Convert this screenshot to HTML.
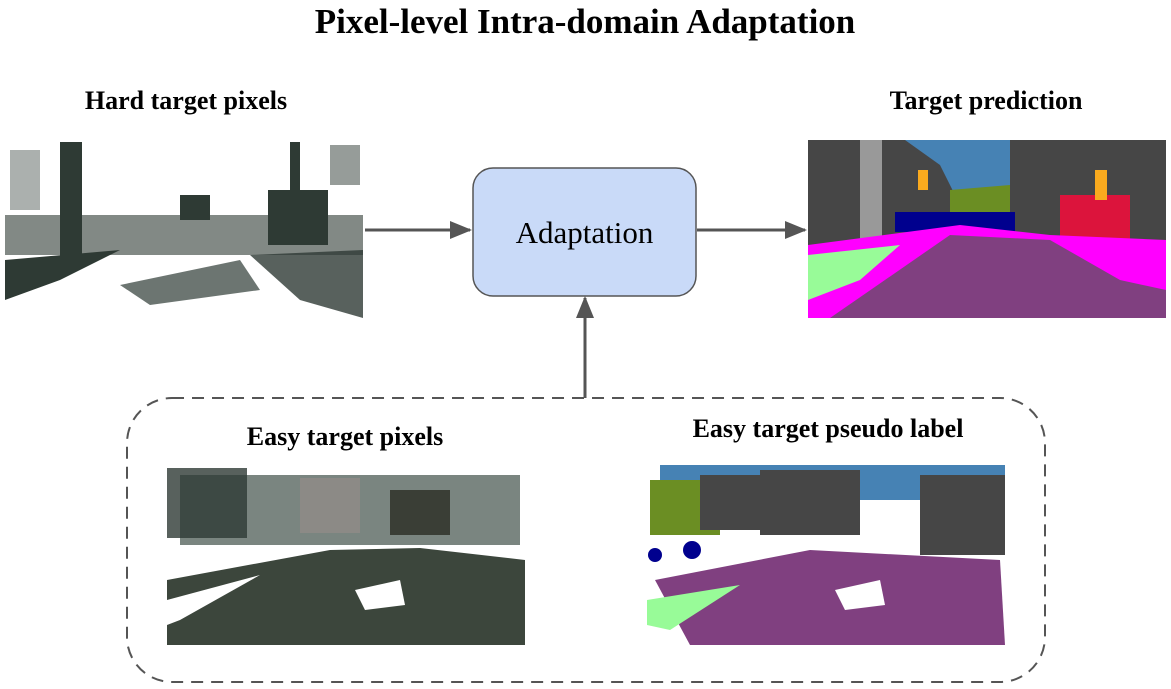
<!DOCTYPE html>
<html><head><meta charset="utf-8"><style>
body{margin:0;width:1171px;height:689px;background:#fff;position:relative;overflow:hidden;font-family:"Liberation Serif",serif}
.t{position:absolute;font-weight:bold;white-space:nowrap;transform:translateX(-50%)}
</style></head><body>
<div class="t" style="left:585px;top:2px;font-size:35px">Pixel-level Intra-domain Adaptation</div>
<div class="t" style="left:186px;top:86px;font-size:26px">Hard target pixels</div>
<div class="t" style="left:986px;top:86px;font-size:26px">Target prediction</div>
<div class="t" style="left:345px;top:422px;font-size:26px">Easy target pixels</div>
<div class="t" style="left:828px;top:414px;font-size:26px">Easy target pseudo label</div>
<svg width="1171" height="689" style="position:absolute;left:0;top:0">
<defs><marker id="a" markerWidth="22" markerHeight="20" refX="20" refY="10" orient="auto" markerUnits="userSpaceOnUse"><path d="M0,1 L22,10 L0,19 z" fill="#555"/></marker></defs>
<rect x="5" y="140" width="358" height="178" fill="#fff"/>
<g fill="#2e3a34">
<rect x="5" y="215" width="358" height="40" opacity=".6"/>
<rect x="60" y="142" width="22" height="120"/>
<rect x="268" y="190" width="60" height="55"/>
<rect x="290" y="142" width="10" height="100"/>
<path d="M5 260 L120 250 L60 280 L5 300z"/>
<path d="M250 255 L363 250 L363 318 L300 300z" opacity=".8"/>
<path d="M120 285 L240 260 L260 290 L150 305z" opacity=".7"/>
<rect x="180" y="195" width="30" height="25"/>
<rect x="10" y="150" width="30" height="60" opacity=".4"/>
<rect x="330" y="145" width="30" height="40" opacity=".5"/>
</g>
<line x1="365" y1="230" x2="470" y2="230" stroke="#555" stroke-width="3" marker-end="url(#a)"/>
<rect x="473" y="168" width="223" height="128" rx="20" fill="#c9daf8" stroke="#555" stroke-width="1.5"/>
<text x="584.5" y="243" text-anchor="middle" font-size="31" font-family="Liberation Serif,serif">Adaptation</text>
<line x1="697" y1="230" x2="805" y2="230" stroke="#555" stroke-width="3" marker-end="url(#a)"/>
<line x1="585" y1="398" x2="585" y2="298" stroke="#555" stroke-width="3" marker-end="url(#a)"/>
<rect x="808" y="140" width="358" height="178" fill="#464646"/>
<path d="M905 140 L1010 140 L1010 200 L955 195 L940 165z" fill="#4682b4"/>
<path d="M950 190 L1010 185 L1010 215 L950 215z" fill="#6b8e23"/>
<rect x="860" y="140" width="22" height="110" fill="#999"/>
<rect x="1060" y="195" width="70" height="45" fill="#dc143c"/>
<rect x="895" y="212" width="120" height="20" fill="#00008e"/>
<path d="M808 245 L960 225 L1050 235 L1166 240 L1166 318 L808 318z" fill="#ff00ff"/>
<path d="M808 255 L900 245 L860 280 L808 300z" fill="#98fb98"/>
<path d="M830 318 L950 235 L1050 240 L1120 280 L1166 290 L1166 318z" fill="#804080"/>
<rect x="918" y="170" width="10" height="20" fill="#faaa1e"/>
<rect x="1095" y="170" width="12" height="30" fill="#faaa1e"/>
<rect x="127" y="398" width="918" height="284" rx="45" fill="none" stroke="#555" stroke-width="2" stroke-dasharray="12,8"/>
<rect x="167" y="468" width="358" height="177" fill="#fff"/>
<rect x="180" y="475" width="340" height="70" fill="#7a8580"/>
<rect x="167" y="468" width="80" height="70" fill="#2e3a34" opacity=".8"/>
<rect x="300" y="478" width="60" height="55" fill="#8c8a86"/>
<rect x="390" y="490" width="60" height="45" fill="#3a3e36"/>
<path d="M167 580 L330 550 L420 548 L525 560 L525 645 L167 645z" fill="#3c463c"/>
<path d="M167 600 L260 575 L180 620 L167 625z" fill="#fff"/>
<path d="M355 590 L400 580 L405 605 L365 610z" fill="#fff"/>
<rect x="647" y="465" width="358" height="180" fill="#fff"/>
<rect x="660" y="465" width="345" height="35" fill="#4682b4"/>
<rect x="650" y="480" width="70" height="55" fill="#6b8e23"/>
<rect x="700" y="475" width="80" height="55" fill="#464646"/>
<rect x="760" y="470" width="100" height="65" fill="#464646"/>
<rect x="920" y="475" width="85" height="80" fill="#464646"/>
<path d="M655 580 L810 550 L1000 560 L1005 645 L690 645z" fill="#804080"/>
<path d="M647 600 L740 585 L670 630 L647 625z" fill="#98fb98"/>
<path d="M835 590 L880 580 L885 605 L845 610z" fill="#fff"/>
<circle cx="655" cy="555" r="7" fill="#00008e"/><circle cx="692" cy="550" r="9" fill="#00008e"/>
</svg>
</body></html>
